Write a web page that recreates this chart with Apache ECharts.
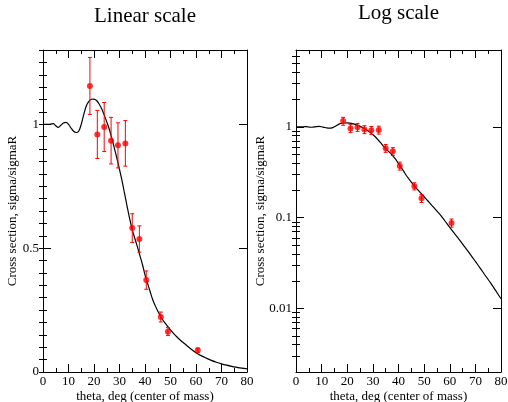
<!DOCTYPE html>
<html><head><meta charset="utf-8">
<script src="https://cdn.jsdelivr.net/npm/echarts@6/dist/echarts.min.js"></script>
<style>html,body{margin:0;padding:0;background:#fff}#c{width:508px;height:402px}</style>
</head><body><div id="c"></div>
<script>
// ---- data ----
const thetaData = [18.4, 21.3, 24.0, 26.7, 29.4, 32.3, 35.0, 37.8, 40.5, 46.2, 49.0, 60.7];
const sigmaData = [1.155, 0.959, 0.989, 0.934, 0.915, 0.923, 0.581, 0.537, 0.371, 0.222, 0.163, 0.0875];
const sigmaErr  = [0.115, 0.097, 0.099, 0.094, 0.091, 0.092, 0.058, 0.053, 0.037, 0.020, 0.016, 0.009];
const thetaCurve = [0,1,2,3,4,5,6,7,8,9,10,11,12,13,14,15,16,17,18,19,20,21,22,23,24,25,26,27,28,29,30,31,32,33,34,35,36,37,38,39,40,41,42,43,44,45,46,47,48,49,50,51,52,54,56,58,60,62,64,66,68,70,72,74,76,78,80];
const sigmaCurve = [1.0,1.0,1.0,1.001,1.003,0.994,0.988,0.996,1.005,1.008,1.0,0.985,0.972,0.967,0.972,1.0,1.04,1.075,1.093,1.101,1.102,1.096,1.082,1.063,1.038,1.01,0.98,0.943,0.903,0.862,0.818,0.772,0.72,0.668,0.618,0.575,0.54,0.506,0.47,0.434,0.392,0.358,0.325,0.293,0.268,0.246,0.227,0.21,0.196,0.183,0.17,0.158,0.147,0.127,0.11,0.093,0.078,0.066,0.056,0.047,0.0395,0.033,0.0275,0.0228,0.019,0.0156,0.0128];
const xTickLabels = [0,10,20,30,40,50,60,70,80];
const linTickLabels = [0, 0.5, 1];
const logTickLabels = [0.01, 0.1, 1];
const logMinorTicks = [0.003,0.004,0.005,0.006,0.007,0.008,0.009,0.02,0.03,0.04,0.05,0.06,0.07,0.08,0.09,0.2,0.3,0.4,0.5,0.6,0.7,0.8,0.9,2,3,4,5,6];

// ---- build ----
const FONT = 'Liberation Serif';
const curvePts = thetaCurve.map((x,i)=>[x, sigmaCurve[i]]);
const dataPts = thetaData.map((x,i)=>[x, sigmaData[i]]);
const errPts = thetaData.map((x,i)=>[x, sigmaData[i]-sigmaErr[i], sigmaData[i]+sigmaErr[i]]);
const LOGMIN = 0.002, LOGMAX = 7;

const lineStyle = {color:'#000', width:1};
function xAx(grid, pos, labels){
  return {
    type:'value', gridIndex:grid, position:pos, min:0, max:80, interval:10,
    axisLine:{show:true, onZero:false, lineStyle},
    axisTick:{show:true, inside:true, length:8, lineStyle},
    minorTick:{show:true, splitNumber:2, length:4, lineStyle},
    splitLine:{show:false},
    axisLabel:{show:labels, margin:3, color:'#000', fontFamily:FONT, fontSize:13,
      formatter: v => xTickLabels.indexOf(v) >= 0 ? String(v) : ''},
    name: labels ? 'theta, deg (center of mass)' : '',
    nameLocation:'middle', nameGap:18, nameMoveOverlap:false,
    nameTextStyle:{color:'#000', fontFamily:FONT, fontSize:13}
  };
}
function yLinMajor(pos, labels){
  return {
    type:'value', gridIndex:0, position:pos, min:0, max:1.3, interval:0.5,
    axisLine:{show:true, onZero:false, lineStyle},
    axisTick:{show:true, inside:true, length:8, lineStyle},
    splitLine:{show:false},
    axisLabel:{show:labels, showMaxLabel:false, margin:4, color:'#000', fontFamily:FONT, fontSize:13,
      formatter: v => linTickLabels.indexOf(v) >= 0 ? String(v) : ''},
    name: labels ? 'Cross section, sigma/sigmaR' : '',
    nameLocation:'middle', nameGap:24, nameMoveOverlap:false,
    nameTextStyle:{color:'#000', fontFamily:FONT, fontSize:13}
  };
}
function yLinMinor(pos){
  return {
    type:'value', gridIndex:0, position:pos, min:0, max:1.3, interval:0.05,
    axisLine:{show:false}, axisTick:{show:true, inside:true, length:4, lineStyle},
    splitLine:{show:false}, axisLabel:{show:false}
  };
}
function yLogMajor(pos, labels){
  return {
    type:'log', gridIndex:1, position:pos, min:LOGMIN, max:LOGMAX, logBase:10,
    axisLine:{show:true, onZero:false, lineStyle},
    axisTick:{show:true, inside:true, length:8, lineStyle},
    splitLine:{show:false},
    axisLabel:{show:labels, showMinLabel:false, showMaxLabel:false, margin:4, color:'#000', fontFamily:FONT, fontSize:13,
      formatter: v => { const m = logTickLabels.find(t => Math.abs(t - v) < 1e-9*Math.max(1,t)); return m !== undefined ? String(m) : ''; }},
    name: labels ? 'Cross section, sigma/sigmaR' : '',
    nameLocation:'middle', nameGap:29, nameMoveOverlap:false,
    nameTextStyle:{color:'#000', fontFamily:FONT, fontSize:13}
  };
}
function yLogMinor(pos){
  // decorative minor ticks, positioned in log10 space on an overlaid axis
  return {
    type:'value', gridIndex:1, position:pos, min:Math.log10(LOGMIN), max:Math.log10(LOGMAX),
    axisLine:{show:false},
    axisTick:{show:true, inside:true, length:4, lineStyle, customValues: logMinorTicks.map(v=>Math.log10(v))},
    splitLine:{show:false}, axisLabel:{show:false}
  };
}
function errSeries(xi, yi){
  return {
    type:'custom', xAxisIndex:xi, yAxisIndex:yi, data:errPts, z:3,
    encode:{x:0, y:[1,2]},
    renderItem(params, api){
      const x = api.value(0);
      const a = api.coord([x, api.value(1)]);
      const b = api.coord([x, api.value(2)]);
      const c = 2;
      const st = {stroke:'#ff0000', lineWidth:1};
      return {type:'group', children:[
        {type:'line', shape:{x1:a[0], y1:a[1], x2:b[0], y2:b[1]}, style:st},
        {type:'line', shape:{x1:a[0]-c, y1:a[1], x2:a[0]+c, y2:a[1]}, style:st},
        {type:'line', shape:{x1:b[0]-c, y1:b[1], x2:b[0]+c, y2:b[1]}, style:st}
      ]};
    }
  };
}
function curveSeries(xi, yi){
  return {type:'line', xAxisIndex:xi, yAxisIndex:yi, data:curvePts, showSymbol:false, smooth:0.35,
    lineStyle:{color:'#000', width:1.2}, z:2, animation:false};
}
function ptSeries(xi, yi){
  return {type:'scatter', xAxisIndex:xi, yAxisIndex:yi, data:dataPts, symbol:'circle', symbolSize:6,
    itemStyle:{color:'#ff0000'}, z:4, animation:false};
}

const chart = echarts.init(document.getElementById('c'), null, {renderer:'canvas'});
chart.setOption({
  animation:false,
  backgroundColor:'#fff',
  graphic:[
    {type:'text', x:145, y:16, style:{text:'Linear scale', font:'21px "Liberation Serif"', fill:'#000', textAlign:'center', textVerticalAlign:'middle'}},
    {type:'text', x:398.5, y:13, style:{text:'Log scale', font:'21px "Liberation Serif"', fill:'#000', textAlign:'center', textVerticalAlign:'middle'}}
  ],
  grid:[
    {left:43, top:50, width:204, height:322, show:false, containLabel:false, outerBoundsMode:'none'},
    {left:296, top:50, width:205, height:322, show:false, containLabel:false, outerBoundsMode:'none'}
  ],
  xAxis:[ xAx(0,'bottom',true), xAx(0,'top',false), xAx(1,'bottom',true), xAx(1,'top',false) ],
  yAxis:[ yLinMajor('left',true), yLinMinor('left'), yLinMajor('right',false), yLinMinor('right'),
          yLogMajor('left',true), yLogMinor('left'), yLogMajor('right',false), yLogMinor('right') ],
  series:[
    curveSeries(0,0), errSeries(0,0), ptSeries(0,0),
    curveSeries(2,4), errSeries(2,4), ptSeries(2,4)
  ]
});
</script>
</body></html>
